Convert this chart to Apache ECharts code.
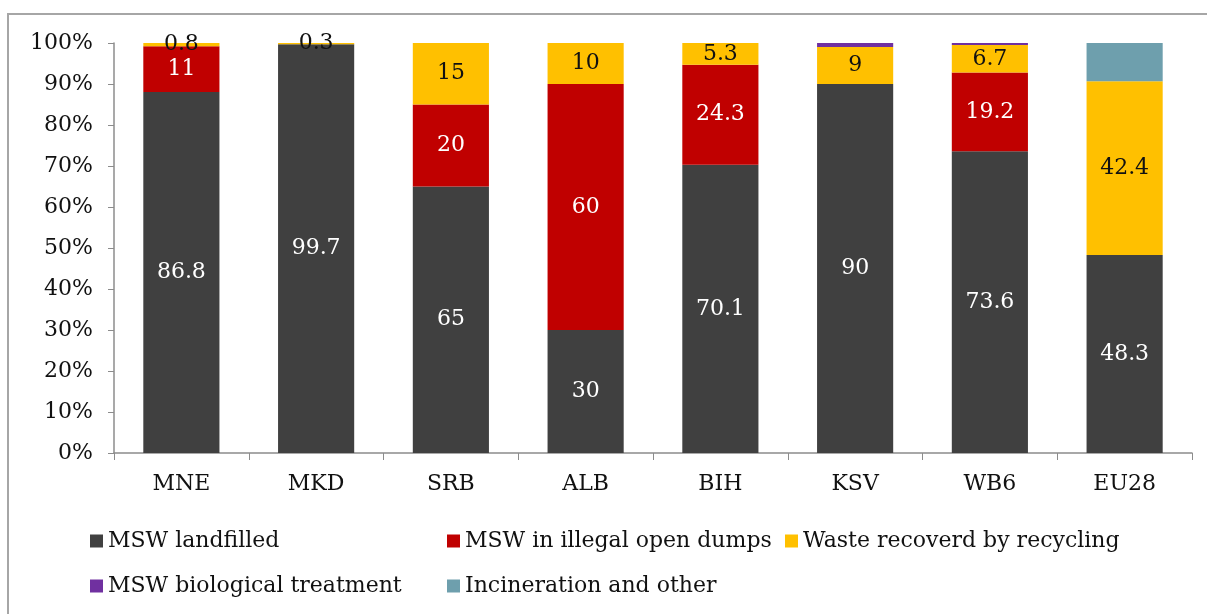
<!DOCTYPE html>
<html>
<head>
<meta charset="utf-8">
<script src="https://cdn.jsdelivr.net/npm/echarts@6/dist/echarts.min.js"></script>
<style>
html,body{margin:0;padding:0;background:#fff;}
#chart{width:1207px;height:614px;}
</style>
</head>
<body>
<div id="chart"></div>
<script>
// categories
var countries = ['MNE', 'MKD', 'SRB', 'ALB', 'BIH', 'KSV', 'WB6', 'EU28'];
// values as written on the bars (share of MSW, %)
var landfilled = [86.8, 99.7, 65, 30, 70.1, 90, 73.6, 48.3];
var illegalDumps = [11, 0, 20, 60, 24.3, 0, 19.2, 0];
var recycling = [0.8, 0.3, 15, 10, 5.3, 9, 6.7, 42.4];
var biological = [0, 0, 0, 0, 0, 1, 0.5, 0];
var incineration = [0, 0, 0, 0, 0, 0, 0, 9.3];
var yTicks = ['0%', '10%', '20%', '30%', '40%', '50%', '60%', '70%', '80%', '90%', '100%'];

var font = 'DejaVu Serif';
var names = ['MSW landfilled', 'MSW in illegal open dumps', 'Waste recoverd by recycling', 'MSW biological treatment', 'Incineration and other'];
var colors = ['#404040', '#C00000', '#FFC000', '#7030A0', '#6E9FAD'];
var all = [landfilled, illegalDumps, recycling, biological, incineration];
var labelOn = [true, true, true, false, false];
var labelColor = ['#fff', '#fff', '#111', '#111', '#111'];

// 100% stacked, like the excel chart
var totals = countries.map(function(c, i){
	var s = 0;
	for (var k = 0; k < all.length; k++) s += all[k][i];
	return s;
});

var series = all.map(function(arr, k){
	return {
		name: names[k],
		type: 'bar',
		stack: 'msw',
		barWidth: '56.5%',
		itemStyle: {color: colors[k]},
		label: {
			show: labelOn[k],
			position: 'inside',
			fontFamily: font,
			fontSize: 22,
			color: labelColor[k],
			formatter: function(p){
				return p.data.raw ? String(p.data.raw) : '';
			}
		},
		data: arr.map(function(v, i){
			return {value: v / totals[i] * 100, raw: v};
		})
	};
});

// legend in two rows, three columns
var legPos = [[85, 525], [442, 525], [780, 525], [85, 570], [442, 570]];
var legends = names.map(function(n, k){
	return {
		data: [n],
		left: legPos[k][0],
		top: legPos[k][1],
		itemWidth: 13,
		itemHeight: 13,
		icon: 'rect',
		selectedMode: false,
		textStyle: {fontFamily: font, fontSize: 22, color: '#111'}
	};
});

var chart = echarts.init(document.getElementById('chart'));
chart.setOption({
	animation: false,
	backgroundColor: '#fff',
	color: colors,
	//外框
	graphic: [{
		type: 'polyline',
		shape: {points: [[8, 620], [8, 14], [1207, 14]]},
		style: {fill: 'none', stroke: '#a6a6a6', lineWidth: 2}
	}],
	grid: {left: 114, right: 15, top: 43, bottom: 161},
	legend: legends,
	xAxis: {
		type: 'category',
		data: countries,
		axisLine: {lineStyle: {color: '#8c8c8c', width: 1.5}},
		axisTick: {show: true, length: 7, lineStyle: {color: '#8c8c8c'}},
		axisLabel: {fontFamily: font, fontSize: 22, color: '#111', margin: 20}
	},
	yAxis: {
		type: 'value',
		min: 0,
		max: 100,
		interval: 10,
		splitLine: {show: false},
		axisLine: {show: true, lineStyle: {color: '#8c8c8c', width: 1.5}},
		axisTick: {show: true, length: 6, lineStyle: {color: '#8c8c8c'}},
		axisLabel: {
			fontFamily: font, fontSize: 22, color: '#111', margin: 21,
			formatter: function(v){ return yTicks[Math.round(v / 10)]; }
		}
	},
	series: series
});
</script>
</body>
</html>
